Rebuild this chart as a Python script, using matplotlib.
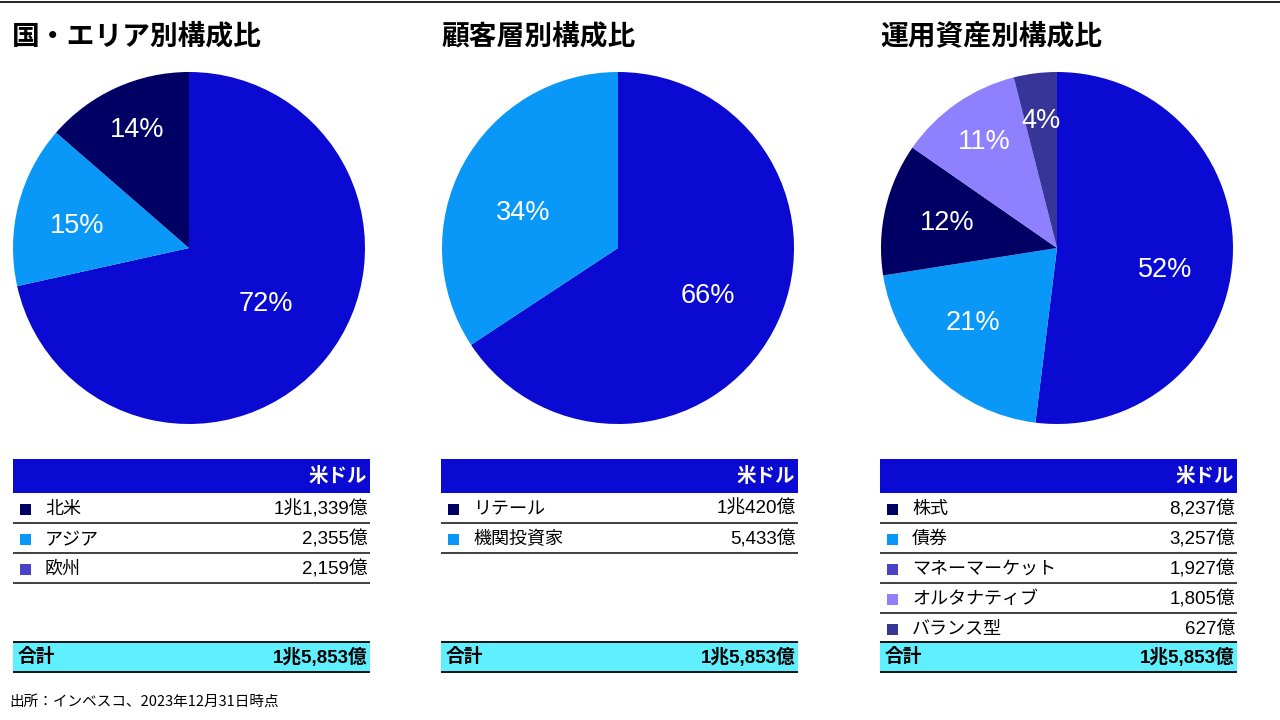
import math
import matplotlib
matplotlib.use("Agg")
import matplotlib.pyplot as plt
from matplotlib.patches import Rectangle

plt.rcParams['font.family'] = ['Liberation Sans', 'Noto Sans CJK JP', 'DejaVu Sans']

# ---------------- data ----------------
titles = ["国・エリア別構成比", "顧客層別構成比", "運用資産別構成比"]

region_labels = ["北米", "アジア", "欧州"]
region_values = [11339, 2355, 2159]          # 億米ドル

client_labels = ["リテール", "機関投資家"]
client_values = [10420, 5433]

asset_labels = ["株式", "債券", "マネーマーケット", "オルタナティブ", "バランス型"]
asset_values = [8237, 3257, 1927, 1805, 627]

total_value = 15853
unit_label = "米ドル"
total_label = "合計"
source_note = "出所：インベスコ、2023年12月31日時点"

# ---------------- style ----------------
BLUE = "#0A0AD2"
NAVY = "#000064"
LBLUE = "#0A98F8"
LAV = "#8F80FF"
SLATE = "#383599"
PURPLE = "#4A42C6"
CYAN = "#60EFFF"

pie_colors = [
    [BLUE, LBLUE, NAVY],
    [BLUE, LBLUE],
    [BLUE, LBLUE, NAVY, LAV, SLATE],
]
legend_colors = [
    [NAVY, LBLUE, PURPLE],
    [NAVY, LBLUE],
    [NAVY, LBLUE, PURPLE, LAV, SLATE],
]
# label placement (fraction of radius, angular shift in degrees from wedge middle)
label_dist = [
    [0.54, 0.65, 0.73],
    [0.58, 0.575],
    [0.63, 0.64, 0.64, 0.73, 0.73],
]
label_shift = [
    [3.0, 3.0, -0.7],
    [0.0, 8.0],
    [-8.0, -3.9, 0.0, 0.0, 0.0],
]

W, H = 1280, 720
fig = plt.figure(figsize=(12.8, 7.2), dpi=100)
fig.patch.set_facecolor("white")

bg = fig.add_axes([0, 0, 1, 1])
bg.set_xlim(0, W)
bg.set_ylim(H, 0)
bg.axis("off")

# top rule
bg.plot([0, W], [1.5, 1.5], color="black", lw=1.2, solid_capstyle="butt")


def fmt(v):
    if v >= 10000:
        return f"{v // 10000}兆{v % 10000:,}億"
    return f"{v:,}億"


panels = [
    (region_labels, region_values),
    (client_labels, client_values),
    (asset_labels, asset_values),
]
pie_centers = [189, 618, 1057]
pie_cy = 248
R = 176
table_x = [13, 441, 880]
table_w = 357
title_x = [12, 441, 880]

for i, (labels, values) in enumerate(panels):
    # title
    bg.text(title_x[i], 36, titles[i], fontsize=20, fontweight="bold",
            family=["Noto Sans CJK JP"], ha="left", va="center", color="black")

    # pie
    cx = pie_centers[i]
    ax = fig.add_axes([(cx - R) / W, (H - pie_cy - R) / H, 2 * R / W, 2 * R / H])
    wedges, _ = ax.pie(values, colors=pie_colors[i], startangle=90, counterclock=False,
                       radius=1.0, wedgeprops=dict(linewidth=0))
    ax.set_xlim(-1, 1)
    ax.set_ylim(-1, 1)
    ax.set_aspect("equal")
    ax.axis("off")
    tot = sum(values)
    for w, v, d, s in zip(wedges, values, label_dist[i], label_shift[i]):
        ang = math.radians((w.theta1 + w.theta2) / 2 + s)
        ax.text(d * math.cos(ang), d * math.sin(ang), f"{round(100 * v / tot)}%",
                ha="center", va="center", color="white", fontsize=19.5,
                family=["Liberation Sans"])

    # table
    x0 = table_x[i]
    x1 = x0 + table_w
    bg.add_patch(Rectangle((x0, 459), table_w, 34, facecolor=BLUE, edgecolor="none"))
    bg.text(x1 - 3, 477, unit_label, ha="right", va="center", color="white",
            fontsize=14, fontweight="bold", family=["Noto Sans CJK JP"])
    row_h = 30
    y = 493
    for j, (lab, v) in enumerate(zip(labels, values)):
        yc = y + row_h / 2 + 1
        bg.add_patch(Rectangle((x0 + 7, yc - 5.5), 11, 11,
                               facecolor=legend_colors[i][j], edgecolor="none"))
        bg.text(x0 + 32, yc, lab, ha="left", va="center", fontsize=13,
                family=["Noto Sans CJK JP"], color="black")
        bg.text(x1 - 2, yc, fmt(v), ha="right", va="center", fontsize=13.5,
                color="black")
        y += row_h
        if y < 640:
            bg.plot([x0, x1], [y, y], color="#303030", lw=1.3, solid_capstyle="butt")

    # total row
    bg.add_patch(Rectangle((x0, 642), table_w, 30, facecolor=CYAN, edgecolor="none"))
    bg.plot([x0, x1], [642, 642], color="black", lw=1.3, solid_capstyle="butt")
    bg.plot([x0, x1], [672, 672], color="black", lw=1.3, solid_capstyle="butt")
    bg.text(x0 + 5, 657, total_label, ha="left", va="center", fontsize=13.5,
            fontweight="bold", family=["Noto Sans CJK JP"], color="black")
    bg.text(x1 - 2, 657, fmt(total_value), ha="right", va="center", fontsize=13.5,
            fontweight="bold", color="black")

bg.text(9, 702, source_note, ha="left", va="center", fontsize=10.5,
        family=["Noto Sans CJK JP"], color="black")

fig.savefig("out.png", dpi=100, facecolor="white")
